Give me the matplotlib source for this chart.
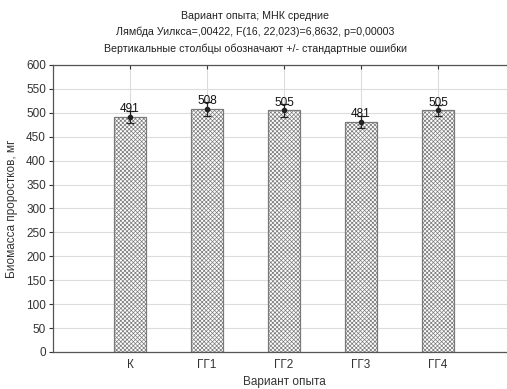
import matplotlib
matplotlib.use("Agg")
import matplotlib.pyplot as plt
import numpy as np

groups = ["К", "ГГ1", "ГГ2", "ГГ3", "ГГ4"]
means = [491, 508, 505, 481, 505]
se = [12, 15, 13, 13, 12]

plt.rcParams["font.family"] = ["Liberation Sans", "DejaVu Sans"]
plt.rcParams["hatch.color"] = "#a0a0a0"
plt.rcParams["hatch.linewidth"] = 0.5

W, H = 507, 389
fig = plt.figure(figsize=(W / 100, H / 100), dpi=100)
ax = fig.add_axes([53 / W, 1 - 352 / H, (515 - 53) / W, (352 - 65) / H])

x = np.arange(len(groups))
ax.bar(x, means, width=0.41, color="white", edgecolor="#7a7a7a",
       hatch="xxxxxxxx", linewidth=0.9, zorder=2)
ax.errorbar(x, means, yerr=se, fmt="o", color="#222222", markersize=3,
            elinewidth=0.9, capsize=3, capthick=0.9, zorder=3)
for xi, m in zip(x, means):
    ax.text(xi, m + 4, f"{m}", ha="center", va="bottom", fontsize=8.5,
            color="#111111", zorder=4)

ax.set_xlim(-1, 5)
ax.set_ylim(0, 600)
ax.set_yticks(range(0, 601, 50))
ax.set_xticks(x)
ax.set_xticklabels(groups)
ax.grid(True, color="#dcdcdc", linewidth=0.8, zorder=0)
ax.set_axisbelow(True)
ax.tick_params(axis="y", labelsize=8.5, colors="#333333", length=3,
               direction="out", pad=2)
ax.tick_params(axis="x", labelsize=8.5, colors="#333333", top=True,
               direction="in", length=3, pad=5)
for s in ax.spines.values():
    s.set_color("#555555")
    s.set_linewidth(0.9)

ax.set_xlabel("Вариант опыта", fontsize=8.5, color="#333333", labelpad=4)
ax.set_ylabel("Биомасса проростков, мг", fontsize=8.5, color="#333333",
              labelpad=6)

title = ("Вариант опыта; МНК средние\n"
         "Лямбда Уилкса=,00422, F(16, 22,023)=6,8632, p=0,00003\n"
         "Вертикальные столбцы обозначают +/- стандартные ошибки")
fig.text(255 / W, 1 - 11 / H, title, ha="center", va="top", fontsize=7.7,
         color="#222222", linespacing=1.7)

fig.savefig("out.png", dpi=100)
